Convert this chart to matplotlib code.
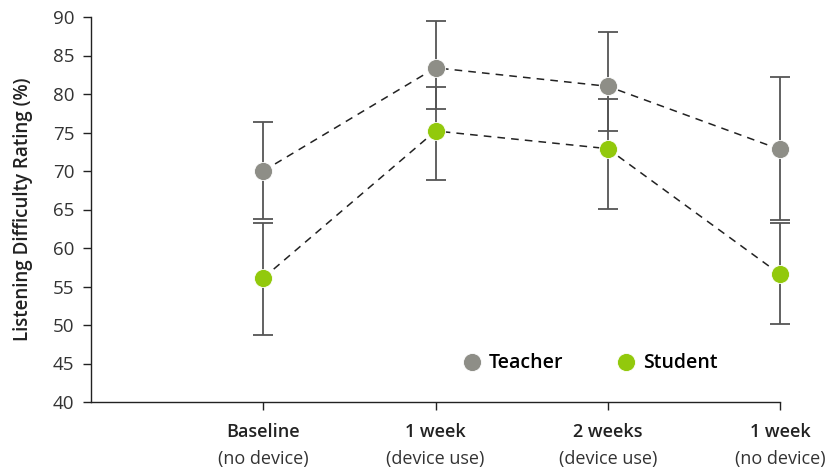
import numpy as np
import matplotlib.pyplot as plt
from matplotlib.lines import Line2D
from matplotlib.transforms import blended_transform_factory

# listening difficulty ratings per session
sessions = ["Baseline", "1 week", "2 weeks", "1 week"]
conditions = ["(no device)", "(device use)", "(device use)", "(no device)"]

teacher_mean = [70.0, 83.4, 81.0, 72.8]
teacher_upper = [76.4, 89.5, 88.0, 82.2]
teacher_lower = [63.8, 78.1, 75.2, 63.6]

student_mean = [56.1, 75.2, 72.9, 56.6]
student_upper = [63.2, 80.9, 79.3, 63.2]
student_lower = [48.7, 68.8, 65.1, 50.1]

GRAY = "#8e8e87"
GREEN = "#92c90c"
INK = "#222222"

plt.rcParams["font.family"] = ["Open Sans", "DejaVu Sans"]

fig = plt.figure(figsize=(8.33, 4.71), dpi=100)
ax = fig.add_axes([91 / 833, 1 - 402 / 471, 689 / 833, 385 / 471])

x = np.arange(len(sessions))

for mean, up, lo, col in [(teacher_mean, teacher_upper, teacher_lower, GRAY),
                          (student_mean, student_upper, student_lower, GREEN)]:
    mean = np.array(mean)
    yerr = [mean - np.array(lo), np.array(up) - mean]
    eb = ax.errorbar(x, mean, yerr=yerr, fmt="none", ecolor="#555555",
                     elinewidth=1.3, capsize=7, capthick=1.3, zorder=2)
    for art in eb.lines[1] + eb.lines[2]:
        art.set_clip_on(False)
    ax.plot(x, mean, ls=(0, (5, 4)), color=INK, lw=1.1, zorder=3, clip_on=False)
    ax.plot(x, mean, "o", ms=13, color=col, mec="white", mew=0.6, zorder=4,
            clip_on=False)

ax.set_xlim(-1, 3)
ax.set_ylim(40, 90)
ax.set_yticks(np.arange(40, 91, 5))
ax.set_xticks(x)
ax.set_xticklabels([])
ax.spines["top"].set_visible(False)
ax.spines["right"].set_visible(False)
for s in ("left", "bottom"):
    ax.spines[s].set_color(INK)
    ax.spines[s].set_linewidth(1.0)
ax.tick_params(axis="both", direction="out", length=6, width=1.0, color=INK)
ax.tick_params(axis="y", labelsize=13.5, labelcolor="#333333", pad=6)

trans = blended_transform_factory(ax.transData, ax.transAxes)
for xi, s, c in zip(x, sessions, conditions):
    ax.text(xi, -0.055, s, transform=trans, ha="center", va="top",
            fontsize=13, fontweight="semibold", color=INK)
    ax.text(xi, -0.125, c, transform=trans, ha="center", va="top",
            fontsize=13, color="#333333")

ax.set_ylabel("Listening Difficulty Rating (%)", fontsize=13.5,
              fontweight="semibold", color=INK, labelpad=14)

handles = [Line2D([], [], ls="none", marker="o", ms=13, color=GRAY, mec="white", mew=0.6),
           Line2D([], [], ls="none", marker="o", ms=13, color=GREEN, mec="white", mew=0.6)]
ax.legend(handles, ["Teacher", "Student"], loc="center left",
          bbox_to_anchor=(0.51, 0.10), ncol=2, frameon=False,
          handletextpad=0.3, columnspacing=2.6, handlelength=1.2,
          prop={"size": 14, "weight": "semibold"})

fig.savefig("out.png", dpi=100)
